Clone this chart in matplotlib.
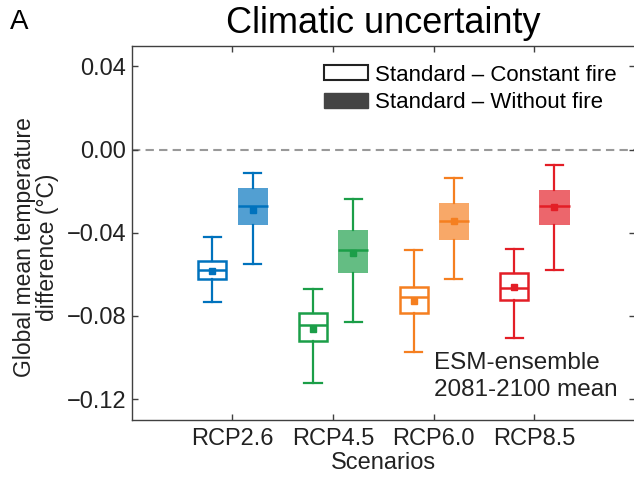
import matplotlib
matplotlib.use("Agg")
import matplotlib.pyplot as plt
from matplotlib.patches import Patch

plt.rcParams['font.family'] = ['Liberation Sans', 'DejaVu Sans']

scenarios = ['RCP2.6', 'RCP4.5', 'RCP6.0', 'RCP8.5']
colors = ['#0072BD', '#1B9E48', '#F57F20', '#E31E26']

# Standard - Constant fire (open boxes)
const_lo = [-0.0735, -0.1121, -0.0973, -0.0904]
const_q1 = [-0.0623, -0.0920, -0.0787, -0.0723]
const_med = [-0.0581, -0.0842, -0.0709, -0.0664]
const_q3 = [-0.0535, -0.0784, -0.0660, -0.0594]
const_hi = [-0.0418, -0.0669, -0.0483, -0.0478]
const_mean = [-0.0584, -0.0863, -0.0728, -0.0661]

# Standard - Without fire (filled boxes)
nofire_lo = [-0.0552, -0.0829, -0.0624, -0.0578]
nofire_q1 = [-0.0363, -0.0594, -0.0435, -0.0363]
nofire_med = [-0.0273, -0.0483, -0.0343, -0.0271]
nofire_q3 = [-0.0187, -0.0387, -0.0259, -0.0192]
nofire_hi = [-0.0112, -0.0239, -0.0138, -0.0074]
nofire_mean = [-0.0288, -0.0496, -0.0341, -0.0276]

fig = plt.figure(figsize=(6.34, 4.8), dpi=100)
ax = fig.add_axes([0.208, 0.125, 0.7935, 0.78])

ax.axhline(0, color='0.6', lw=1.5, linestyle=(0, (4, 2.5)), zorder=1)


def stats(lo, q1, med, q3, hi, mean, i):
    return [dict(whislo=lo[i], q1=q1[i], med=med[i], q3=q3[i], whishi=hi[i],
                 mean=mean[i], fliers=[])]


for i, c in enumerate(colors):
    x = i + 1
    # open box
    ax.bxp(stats(const_lo, const_q1, const_med, const_q3, const_hi, const_mean, i),
           positions=[x - 0.2], widths=0.28, capwidths=0.17, showmeans=True,
           patch_artist=True, manage_ticks=False,
           boxprops=dict(facecolor='white', edgecolor=c, lw=1.8),
           medianprops=dict(color=c, lw=1.8),
           whiskerprops=dict(color=c, lw=1.6),
           capprops=dict(color=c, lw=1.6),
           meanprops=dict(marker='s', markersize=5, markerfacecolor=c,
                          markeredgecolor=c))
    # filled box
    ax.bxp(stats(nofire_lo, nofire_q1, nofire_med, nofire_q3, nofire_hi, nofire_mean, i),
           positions=[x + 0.2], widths=0.3, capwidths=0.17, showmeans=True,
           patch_artist=True, manage_ticks=False,
           boxprops=dict(facecolor=c, edgecolor='none', alpha=0.68),
           medianprops=dict(color=c, lw=1.8),
           whiskerprops=dict(color=c, lw=1.6),
           capprops=dict(color=c, lw=1.6),
           meanprops=dict(marker='s', markersize=5, markerfacecolor=c,
                          markeredgecolor=c))

ax.set_xlim(0, 5)
ax.set_ylim(-0.13, 0.05)
ax.set_xticks(range(1, 5))
ax.set_xticklabels(scenarios)
ax.set_yticks([0.04, 0.0, -0.04, -0.08, -0.12])
ax.set_yticklabels(['0.04', '0.00', '\u22120.04', '\u22120.08', '\u22120.12'])
ax.tick_params(direction='in', length=4, width=1, top=True, right=True,
               labelsize=17, colors='0.25', labelcolor='#222222')
ax.tick_params(axis='x', pad=6)
ax.tick_params(axis='y', pad=4)
for s in ax.spines.values():
    s.set_color('0.25')
    s.set_linewidth(1)

ax.set_xlabel('Scenarios', fontsize=17, color='#222222', labelpad=1)
ax.set_ylabel('Global mean temperature\ndifference (\u00b0C)', fontsize=16.5,
              color='#222222', linespacing=1.0)
ax.yaxis.set_label_coords(-0.145, 0.462)
ax.set_title('Climatic uncertainty', fontsize=26, color='black', pad=9)
fig.text(0.016, 0.955, 'A', fontsize=20, va='center', ha='left')

handles = [Patch(facecolor='white', edgecolor='#222222', lw=1.5),
           Patch(facecolor='#444444', edgecolor='#444444')]
ax.legend(handles, ['Standard \u2013 Constant fire', 'Standard \u2013 Without fire'],
          loc='upper left', bbox_to_anchor=(0.381, 0.949), frameon=False,
          fontsize=16, handlelength=2.0, handleheight=0.65, handletextpad=0.3,
          labelspacing=0.3, borderpad=0, borderaxespad=0)

ax.text(0.601, 0.116, 'ESM-ensemble\n2081-2100 mean', transform=ax.transAxes,
        fontsize=17.5, color='#222222', va='center', ha='left', linespacing=1.3)

fig.savefig('out.png', dpi=100)
